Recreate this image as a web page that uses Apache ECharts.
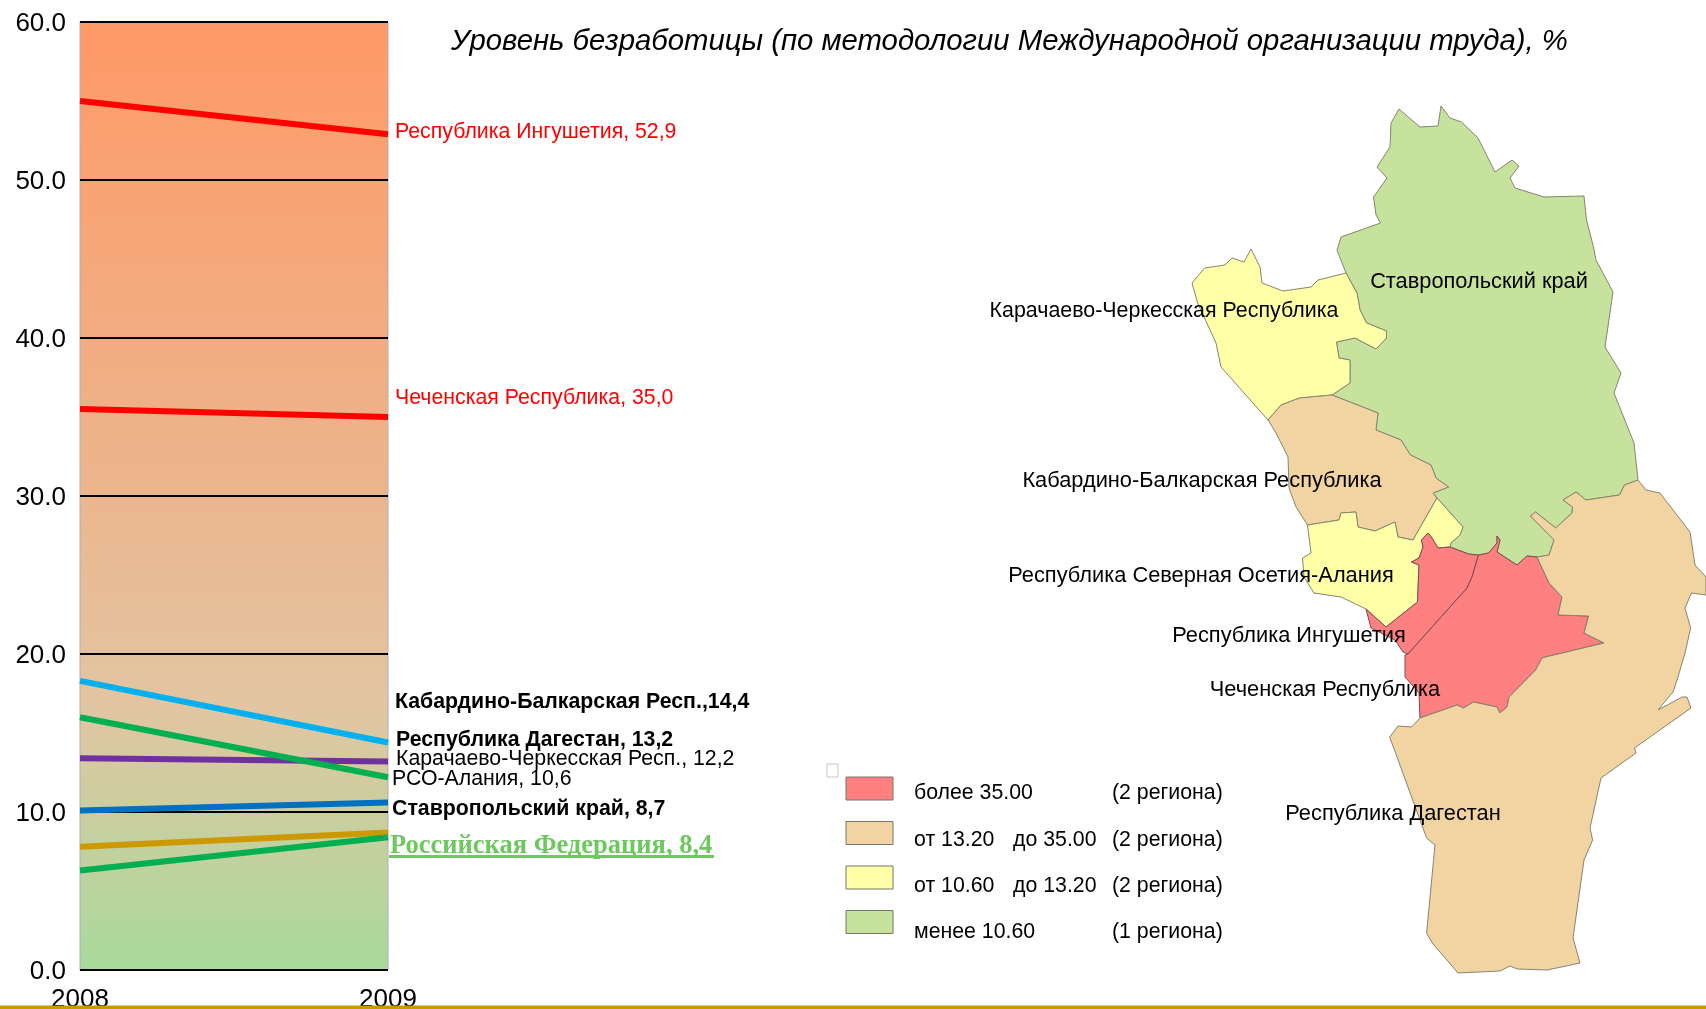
<!DOCTYPE html>
<html lang="ru">
<head>
<meta charset="UTF-8">
<title>Уровень безработицы</title>
<style>
  html, body { margin: 0; padding: 0; background: #fff; }
  #chart { width: 1706px; height: 1009px; }
</style>
</head>
<body>
<div id="chart"></div>
<script src="https://cdn.jsdelivr.net/npm/echarts@6/dist/echarts.min.js"></script>
<script>
// данные графика
var years = ['2008', '2009'];
var ingushetia = [55.0, 52.9];
var chechnya = [35.5, 35.0];
var kabarda = [18.3, 14.4];
var dagestan = [13.4, 13.2];
var kchr = [16.0, 12.2];
var alania = [10.1, 10.6];
var stavropol = [7.8, 8.7];
var russia = [6.3, 8.4];

// подписи в том же порядке, что и линии в lineSeries
var endLabels = [
  'Республика Ингушетия, 52,9',
  'Чеченская Республика, 35,0',
  'Кабардино-Балкарская Респ.,14,4',
  'Республика Дагестан, 13,2',
  'Карачаево-Черкесская Респ., 12,2',
  'РСО-Алания, 10,6',
  'Ставропольский край, 8,7',
  'Российская Федерация, 8,4'
];

// данные карты: значения 2009 года по регионам
var regionNames = ['Ставропольский край', 'Карачаево-Черкесская Республика', 'Кабардино-Балкарская Республика',
  'Республика Северная Осетия-Алания', 'Республика Ингушетия', 'Чеченская Республика', 'Республика Дагестан'];
var regionValues = [8.7, 12.2, 14.4, 10.6, 52.9, 35.0, 13.2];
var classBreaks = [35, 13.2, 10.6];

var legendFrom = ['более 35.00', 'от 13.20', 'от 10.60', 'менее 10.60'];
var legendTo = ['', 'до 35.00', 'до 13.20', ''];
var legendCount = ['(2 региона)', '(2 региона)', '(2 региона)', '(1 региона)'];

// контуры регионов
var stavropolShape = [[1399,109],[1420,127],[1438,126],[1441,106],[1450,118],[1461.5,122],[1478,138],[1495,172],[1512,160],[1519,166],[1510,178],[1515,188],[1544,197],[1584,196],[1586.5,220],[1593.5,247],[1596,260],[1613,292],[1605,347],[1621,373],[1614,393],[1634,443],[1638,480],[1624.5,485],[1619.5,495],[1586,500],[1576,492],[1563,500],[1572.5,507],[1572,513],[1555.7,528],[1535.6,512],[1530.5,516],[1554,540],[1549,555],[1537,557],[1527,556],[1517,565],[1497,552],[1500,540],[1497,536],[1497,543],[1488.6,553],[1478.5,555],[1468.5,554],[1450,547],[1451,543],[1460,535],[1463,527],[1437,498],[1433,493],[1448.5,487],[1436,478],[1431,465],[1410.5,455],[1401,440],[1376,430],[1378,413],[1332,395],[1350,383],[1350,360],[1339,358],[1336.5,342],[1355,338],[1376,349],[1386.5,338],[1386.5,331],[1366.6,323],[1360,310],[1357,293],[1346,273],[1337,250],[1341,237],[1380.5,223],[1376,215],[1373.5,197],[1387,178],[1377,167],[1390,147],[1391,123]];
var kchrShape = [[1192,283],[1204.5,268],[1225,265],[1232,258],[1244,262],[1251,249],[1260,267],[1262,283],[1283,291],[1311,287],[1318,280],[1346,273],[1357,293],[1360,310],[1366.6,323],[1386.5,331],[1386.5,338],[1376,349],[1355,338],[1336.5,342],[1339,358],[1350,360],[1350,383],[1332,395],[1299.5,398],[1281,405],[1268,420],[1221,367],[1216,343],[1197.6,303]];
var kabardaShape = [[1268,420],[1281,405],[1299.5,398],[1332,395],[1378,413],[1376,430],[1401,440],[1410.5,455],[1431,465],[1436,478],[1448.5,487],[1433,493],[1437,498],[1413,540],[1398,537],[1395,522],[1375,531],[1358,527],[1356,512],[1341,513],[1339,520],[1307.5,525],[1296,507],[1289,488],[1288,457],[1276,433]];
var alaniaShape = [[1307.5,525],[1339,520],[1341,513],[1356,512],[1358,527],[1375,531],[1395,522],[1398,537],[1413,540],[1437,498],[1463,527],[1460,535],[1451,543],[1450,547],[1438,548],[1432,538],[1428,533],[1421.5,540],[1423,547],[1419,558],[1411.5,562],[1419,565],[1417.5,602],[1386,627],[1366,609],[1341,597],[1314,593],[1304,577],[1302.5,558],[1311,553]];
var ingushetiaShape = [[1421.5,540],[1428,533],[1432,538],[1438,548],[1450,547],[1468.5,554],[1478.5,555],[1472,577],[1467,588],[1408,654],[1403,652],[1395,640],[1385,635],[1371,628],[1366,609],[1386,627],[1417.5,602],[1419,565],[1411.5,562],[1419,558],[1423,547]];
var chechnyaShape = [[1478.5,555],[1488.6,553],[1497,543],[1497,536],[1500,540],[1497,552],[1517,565],[1527,556],[1537,557],[1549,583],[1562,597],[1558,615],[1588.6,616],[1584,633],[1604,643],[1545.6,657],[1542,658],[1535.6,670],[1509,697],[1507,707],[1500,713],[1497,707],[1473.5,702],[1463.5,708],[1457,705],[1420,718],[1419,693],[1405,677],[1405,655],[1408,654],[1467,588],[1472,577]];
var dagestanShape = [[1638,480],[1646,490],[1660,493],[1690,532],[1695,565],[1706,577],[1706,595],[1691.5,593],[1685,608],[1690.6,628],[1685,653],[1678,677],[1673,692],[1658,710],[1682,697],[1687,697],[1691,708],[1634.5,748],[1636,753],[1601,778],[1590,828],[1592.6,840],[1584,860],[1573,938],[1580,963],[1547,970],[1517,969],[1510,966],[1500,971],[1458,973],[1433,944],[1426.6,933],[1435,845],[1426.6,838],[1389.7,737],[1398,726],[1411.5,727],[1420,718],[1457,705],[1463.5,708],[1473.5,702],[1497,707],[1500,713],[1507,707],[1509,697],[1535.6,670],[1542,658],[1545.6,657],[1604,643],[1584,633],[1588.6,616],[1558,615],[1562,597],[1549,583],[1537,557],[1549,555],[1554,540],[1530.5,516],[1535.6,512],[1555.7,528],[1572,513],[1572.5,507],[1563,500],[1576,492],[1586,500],[1619.5,495],[1624.5,485]];
var regionShapes = [stavropolShape, kchrShape, kabardaShape, alaniaShape, ingushetiaShape, chechnyaShape, dagestanShape];
var labelCenters = [[1479,282],[1164,311],[1202,481],[1201,576],[1289,636],[1325,690],[1393,814]];

var classColors = ['#ff8080', '#f1d4a2', '#ffffa8', '#c7e29c'];
var classBorders = ['#7d4a4e', '#85856f', '#85856f', '#85856f'];

function classOf(v) {
  for (var i = 0; i < classBreaks.length; i++) {
    if (v >= classBreaks[i]) return i;
  }
  return classBreaks.length;
}

echarts.registerMap('caucasus', {
  type: 'FeatureCollection',
  features: regionNames.map(function (name, i) {
    var ring = regionShapes[i].concat([regionShapes[i][0]]);
    return {
      type: 'Feature',
      properties: { name: name, cp: labelCenters[i] },
      geometry: { type: 'Polygon', coordinates: [ring] }
    };
  })
});

var lineSeries = [
  { values: ingushetia, color: '#ff0000' },
  { values: chechnya, color: '#ff0000' },
  { values: kabarda, color: '#00b0f0' },
  { values: dagestan, color: '#7030a0' },
  { values: kchr, color: '#00b050' },
  { values: alania, color: '#0070c0' },
  { values: stavropol, color: '#cc9900' },
  { values: russia, color: '#00b050' }
];
var labelStyles = [
  { offset: [7, -2], color: '#ff0000', fontSize: 21.3 },
  { offset: [7, -19], color: '#ff0000', fontSize: 21.3 },
  { offset: [7, -40], fontWeight: 'bold', fontSize: 21.3 },
  { offset: [8, -21], fontWeight: 'bold', fontSize: 21.3 },
  { offset: [8, -18], fontSize: 21.3 },
  { offset: [4, -23], fontSize: 21.3 },
  { offset: [4, -23], fontWeight: 'bold', fontSize: 21.3 },
  { offset: [2, 9], color: '#6fc75f', fontWeight: 'bold', fontSize: 26.5, fontFamily: '"Liberation Serif", serif' }
];

var series = lineSeries.map(function (s, i) {
  return {
    type: 'line',
    data: s.values,
    symbol: 'none',
    clip: false,
    silent: true,
    lineStyle: { color: s.color, width: 6, cap: 'butt' },
    endLabel: Object.assign({
      show: true,
      distance: 0,
      align: 'left',
      verticalAlign: 'middle',
      color: '#000',
      fontFamily: '"Liberation Sans", Arial, sans-serif',
      formatter: endLabels[i]
    }, labelStyles[i])
  };
});

series.push({
  type: 'map',
  map: 'caucasus',
  projection: { project: function (p) { return p; }, unproject: function (p) { return p; } },
  left: 1192,
  top: 106,
  width: 514,
  height: 867,
  aspectScale: 1,
  silent: true,
  selectedMode: false,
  label: { show: true, color: '#000', fontSize: 21.8, fontFamily: '"Liberation Sans", Arial, sans-serif' },
  itemStyle: { borderWidth: 1 },
  emphasis: { disabled: true },
  data: regionNames.map(function (name, i) {
    var c = classOf(regionValues[i]);
    return {
      name: name,
      value: regionValues[i],
      itemStyle: { areaColor: classColors[c], borderColor: classBorders[c] },
      label: name.indexOf('Карачаево') === 0 ? { fontSize: 21.4 } : undefined
    };
  })
});

// легенда карты и мелкие элементы
var legendSwatchTop = 777, legendSwatchStep = 44.5, legendTextTop = 793.5, legendTextStep = 46.2;
var legendFont = '21.3px "Liberation Sans", Arial, sans-serif';
var graphics = [
  { type: 'rect', shape: { x: 827, y: 764, width: 11, height: 13 }, style: { fill: '#fff', stroke: '#c4c4c4', lineWidth: 1 } },
  { type: 'rect', z: 100, shape: { x: 0, y: 1005.5, width: 1706, height: 3.5 }, style: { fill: '#c99a00' } },
  { type: 'rect', z: 100, shape: { x: 389, y: 855, width: 325, height: 3 }, style: { fill: '#6fc75f' } }
];
legendFrom.forEach(function (t, i) {
  var ty = legendTextTop + i * legendTextStep;
  graphics.push({
    type: 'rect',
    shape: { x: 846, y: legendSwatchTop + i * legendSwatchStep, width: 47, height: 23 },
    style: { fill: classColors[i], stroke: '#77776a', lineWidth: 1 }
  });
  graphics.push({ type: 'text', x: 914, y: ty, style: { text: t, font: legendFont, fill: '#000', verticalAlign: 'middle' } });
  if (legendTo[i]) {
    graphics.push({ type: 'text', x: 1013, y: ty, style: { text: legendTo[i], font: legendFont, fill: '#000', verticalAlign: 'middle' } });
  }
  graphics.push({ type: 'text', x: 1112, y: ty, style: { text: legendCount[i], font: legendFont, fill: '#000', verticalAlign: 'middle' } });
});

var chart = echarts.init(document.getElementById('chart'));
chart.setOption({
  animation: false,
  backgroundColor: '#fff',
  title: {
    text: 'Уровень безработицы (по методологии Международной организации труда), %',
    left: 446,
    top: 22,
    textStyle: { fontSize: 29.3, fontWeight: 'normal', fontStyle: 'italic', color: '#000', fontFamily: '"Liberation Sans", Arial, sans-serif' }
  },
  grid: {
    show: true,
    left: 80,
    top: 22,
    width: 308,
    height: 948,
    outerBoundsMode: 'none',
    borderColor: '#b0b0b0',
    borderWidth: 1,
    backgroundColor: new echarts.graphic.LinearGradient(0, 0, 0, 1, [
      { offset: 0, color: '#ff9966' },
      { offset: 0.5, color: '#ebb68e' },
      { offset: 0.72, color: '#e2c5a2' },
      { offset: 1, color: '#a8da9c' }
    ])
  },
  xAxis: {
    type: 'category',
    data: years,
    boundaryGap: false,
    axisLine: { show: false },
    axisTick: { show: false },
    axisLabel: { color: '#000', fontSize: 26, margin: 17, fontFamily: '"Liberation Sans", Arial, sans-serif', interval: 0 }
  },
  yAxis: {
    type: 'value',
    min: 0,
    max: 60,
    interval: 10,
    axisLine: { show: false },
    axisTick: { show: false },
    axisLabel: {
      margin: 14,
      formatter: function (v) { return '{v|' + v.toFixed(1) + '}'; },
      rich: {
        // подпись чуть ниже линии сетки, как на оригинале
        v: { color: '#000', fontSize: 26, padding: [4, 0, 0, 0], fontFamily: '"Liberation Sans", Arial, sans-serif' }
      }
    },
    splitLine: { show: true, lineStyle: { color: '#000', width: 2 } }
  },
  series: series,
  graphic: graphics
});
</script>
</body>
</html>
